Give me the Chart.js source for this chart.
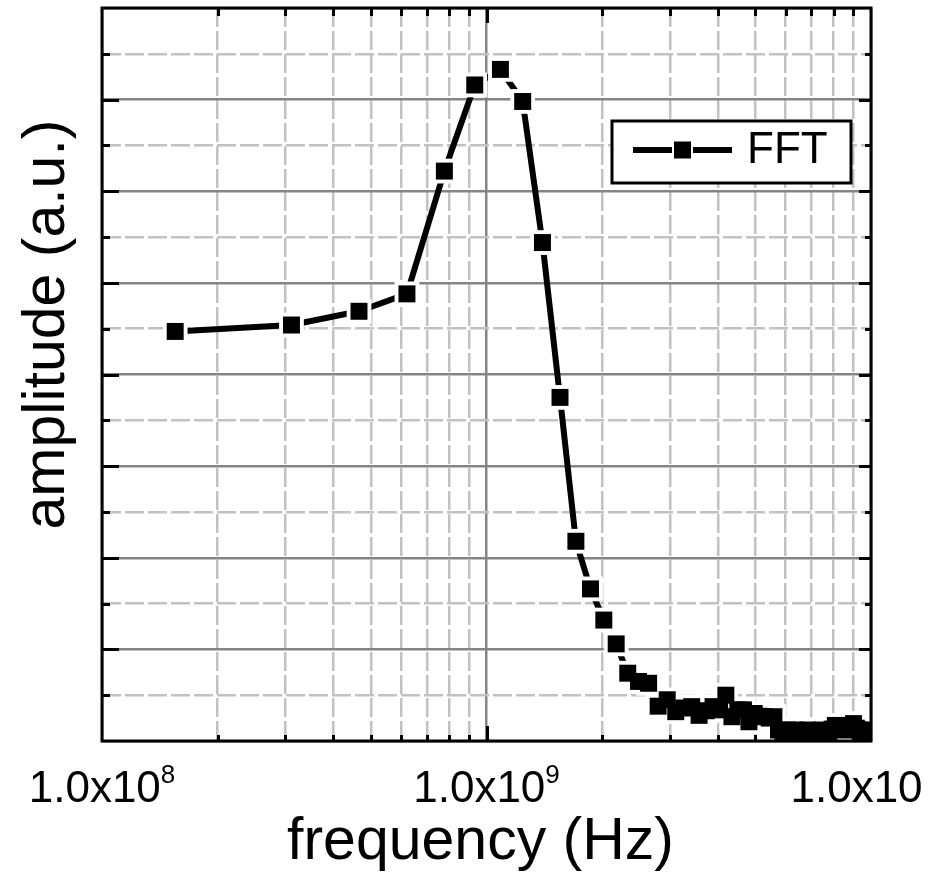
<!DOCTYPE html>
<html>
<head>
<meta charset="utf-8">
<script src="https://cdn.jsdelivr.net/npm/chart.js@4/dist/chart.umd.min.js"></script>
<style>
html,body{margin:0;padding:0;background:#fff;}
#wrap{width:946px;height:872px;position:relative;}
</style>
</head>
<body>
<div id="wrap"><canvas id="c"></canvas></div>
<script>
// ---- data ----
const seriesName = 'FFT';
const freqGHz = [
  0.155, 0.311, 0.466, 0.621, 0.777, 0.932, 1.087, 1.242, 1.398, 1.553,
  1.708, 1.864, 2.019, 2.174, 2.330, 2.485, 2.640, 2.795, 2.951, 3.106,
  3.261, 3.417, 3.572, 3.727, 3.883, 4.038, 4.193, 4.348, 4.504, 4.659,
  4.814, 4.970, 5.125, 5.280, 5.436, 5.591, 5.746, 5.901, 6.057, 6.212,
  6.367, 6.523, 6.678, 6.833, 6.989, 7.144, 7.299, 7.454, 7.610, 7.765,
  7.920, 8.076, 8.231, 8.386, 8.542, 8.697, 8.852, 9.007, 9.163, 9.318,
  9.473, 9.629, 9.784, 9.939
];
const amplitude = [
  4.47, 4.54, 4.69, 4.88, 6.22, 7.16, 7.33, 6.98, 5.44, 3.75,
  2.18, 1.66, 1.32, 1.06, 0.74, 0.65, 0.63, 0.38, 0.45, 0.32,
  0.36, 0.375, 0.28, 0.33, 0.375, 0.34, 0.50, 0.265, 0.34, 0.34,
  0.21, 0.30, 0.27, 0.265, 0.25, 0.265, 0.12, 0.10, 0.12, 0.08,
  0.12, 0.10, 0.07, 0.12, 0.09, 0.11, 0.08, 0.12, 0.09, 0.10,
  0.13, 0.17, 0.14, 0.16, 0.12, 0.17, 0.15, 0.19, 0.14, 0.12,
  0.08, 0.12, 0.07, 0.10
];
const xTitle = 'frequency (Hz)';
const yTitle = 'amplitude (a.u.)';
const xTickValues = [1e8, 1e9, 1e10];
const xTickBase = ['1.0x10', '1.0x10', '1.0x10'];
const xTickExp = ['8', '9', '10'];
const xMin = 1e8, xMax = 1e10;
const yMin = 0, yMax = 8, yMinorStep = 0.5;

// ---- derived ----
const points = freqGHz.map((f, i) => ({ x: f * 1e9, y: amplitude[i] }));
const xGridValues = [];
for (let d = xMin; d < xMax; d *= 10) for (let m = 1; m <= 9; m++) xGridValues.push(m * d);
xGridValues.push(xMax);
const yGridValues = [];
for (let v = yMin; v <= yMax + 1e-9; v += yMinorStep) yGridValues.push(Math.round(v * 100) / 100);

const FONT = '"Liberation Sans", Arial, Helvetica, sans-serif';
const MAJOR_COLOR = '#848484';
const MINOR_COLOR = '#c2c2c2';
const DASH = [19, 4];
const isMajorX = v => xTickValues.some(t => Math.abs(Math.log10(v) - Math.log10(t)) < 1e-6);
const isMajorY = v => Math.abs(v - Math.round(v)) < 1e-6;

const deco = {
  id: 'deco',
  afterDraw(chart) {
    const { ctx, chartArea: a, scales: { x, y } } = chart;
    ctx.save();
    ctx.strokeStyle = '#000';
    ctx.fillStyle = '#000';
    ctx.lineWidth = 3;
    ctx.lineCap = 'butt';
    // tick marks (inward)
    ctx.beginPath();
    yGridValues.forEach(v => {
      if (v <= yMin || v >= yMax) return;
      const py = Math.round(y.getPixelForValue(v)) + 0.5;
      const maj = isMajorY(v);
      ctx.moveTo(a.left, py); ctx.lineTo(a.left + (maj ? 17 : 8), py);
      ctx.moveTo(a.right, py); ctx.lineTo(a.right - (maj ? 12 : 6), py);
    });
    xGridValues.forEach(v => {
      if (v <= xMin * 1.0001 || v >= xMax * 0.9999) return;
      const px = Math.round(x.getPixelForValue(v)) + 0.5;
      const maj = isMajorX(v);
      ctx.moveTo(px, a.top); ctx.lineTo(px, a.top + (maj ? 15 : 8));
      ctx.moveTo(px, a.bottom); ctx.lineTo(px, a.bottom - (maj ? 15 : 6));
    });
    ctx.stroke();
    // frame
    ctx.strokeRect(a.left, a.top, a.right - a.left, a.bottom - a.top);

    // x tick labels with superscript exponent
    ctx.textAlign = 'left';
    ctx.textBaseline = 'alphabetic';
    xTickValues.forEach((v, i) => {
      const px = x.getPixelForValue(v);
      ctx.font = `44px ${FONT}`;
      const bw = ctx.measureText(xTickBase[i]).width;
      ctx.font = `26px ${FONT}`;
      const ew = ctx.measureText(xTickExp[i]).width;
      const left = px - (bw + ew) / 2;
      ctx.font = `44px ${FONT}`;
      ctx.fillText(xTickBase[i], left, a.bottom + 61);
      if (left + bw + ew <= chart.width) {
        ctx.font = `26px ${FONT}`;
        ctx.fillText(xTickExp[i], left + bw, a.bottom + 42);
      }
    });

    // axis titles
    ctx.font = `59px ${FONT}`;
    ctx.textAlign = 'center';
    ctx.fillText(xTitle, (a.left + a.right) / 2 - 6, a.bottom + 118);
    ctx.save();
    ctx.translate(64, (a.top + a.bottom) / 2 - 50);
    ctx.rotate(-Math.PI / 2);
    ctx.fillText(yTitle, 0, 0);
    ctx.restore();

    // legend
    const lx = a.right - 259, ly = a.top + 113, lw = 239, lh = 62;
    ctx.fillStyle = '#fff';
    ctx.fillRect(lx, ly, lw, lh);
    ctx.lineWidth = 3;
    ctx.strokeRect(lx, ly, lw, lh);
    ctx.fillStyle = '#000';
    ctx.lineWidth = 6;
    const cy = ly + 29;
    ctx.beginPath();
    ctx.moveTo(lx + 21, cy); ctx.lineTo(lx + 60, cy);
    ctx.moveTo(lx + 81, cy); ctx.lineTo(lx + 120, cy);
    ctx.stroke();
    ctx.fillRect(lx + 62, cy - 8.5, 17, 17);
    ctx.font = `44px ${FONT}`;
    ctx.textAlign = 'left';
    ctx.fillText(chart.data.datasets[0].label, lx + 135, ly + 42);
    ctx.restore();
  }
};

new Chart(document.getElementById('c'), {
  type: 'scatter',
  data: {
    datasets: [
      { label: seriesName, data: points, showLine: false, pointStyle: 'rect', pointRadius: 12,
        pointBorderWidth: 0, pointBackgroundColor: '#000', order: 0 },
      { label: seriesName + ' gap', data: points, showLine: false, pointStyle: 'rect', pointRadius: 17.5,
        pointBorderWidth: 0, pointBackgroundColor: '#fff', order: 1 },
      { label: seriesName + ' line', data: points, showLine: true, borderColor: '#000', borderWidth: 6,
        pointRadius: 0, tension: 0, order: 2, borderJoinStyle: 'round' }
    ]
  },
  options: {
    responsive: true,
    maintainAspectRatio: false,
    animation: false,
    events: [],
    devicePixelRatio: 1,
    layout: { autoPadding: false, padding: { top: 8, right: 75, left: 0, bottom: 0 } },
    plugins: { legend: { display: false }, tooltip: { enabled: false } },
    scales: {
      x: {
        type: 'logarithmic', min: xMin, max: xMax,
        afterBuildTicks: s => { s.ticks = xGridValues.map(v => ({ value: v, major: isMajorX(v) })); },
        afterFit: s => { s.height = 131; },
        ticks: { display: false },
        grid: {
          drawTicks: false, lineWidth: 2.5,
          color: c => (c.tick && isMajorX(c.tick.value)) ? MAJOR_COLOR : MINOR_COLOR
        },
        border: { display: false, dash: c => (c.tick && !isMajorX(c.tick.value)) ? DASH : [] }
      },
      y: {
        type: 'linear', min: yMin, max: yMax,
        afterBuildTicks: s => { s.ticks = yGridValues.map(v => ({ value: v })); },
        afterFit: s => { s.width = 102; },
        ticks: { display: false },
        grid: {
          drawTicks: false, lineWidth: 2.5,
          color: c => (c.tick && isMajorY(c.tick.value)) ? MAJOR_COLOR : MINOR_COLOR
        },
        border: { display: false, dash: c => (c.tick && !isMajorY(c.tick.value)) ? DASH : [] }
      }
    }
  },
  plugins: [deco]
});
</script>
</body>
</html>
